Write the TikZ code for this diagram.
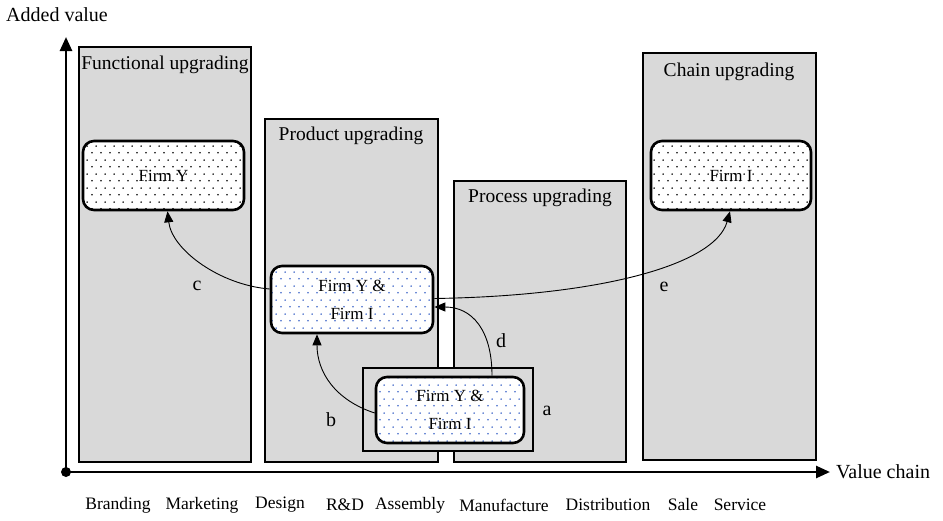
\documentclass[tikz,border=0pt]{standalone}
\usepackage{fontspec}
\setmainfont{Liberation Serif}
\usetikzlibrary{arrows.meta,patterns.meta}
\definecolor{colgray}{RGB}{217,217,217}
\definecolor{dotblue}{RGB}{60,100,200}
\tikzdeclarepattern{
  name=stagdots,
  type=uncolored,
  bottom left={(0pt,0pt)},
  top right={(9pt,14pt)},
  tile size={(9pt,14pt)},
  code={
    \tikzset{x=1pt,y=1pt}
    \fill (2.25,3.5) circle [radius=0.95];
    \fill (6.75,10.5) circle [radius=0.95];
  }
}
\tikzset{
  col/.style={draw=black, fill=colgray, line width=2.6pt},
  coltitle/.style={font=\fontsize{19.5}{23}\selectfont, inner sep=0pt},
  firmbox/.style={draw=black, line width=2.6pt, rounded corners=11pt,
    preaction={fill=white}, pattern=stagdots, inner sep=0pt, align=center,
    font=\fontsize{17}{28}\selectfont},
  blackdots/.style={firmbox, pattern color=black},
  bluedots/.style={firmbox, pattern color=dotblue},
  conn/.style={draw=black, line width=0.9pt, -{Triangle[length=11pt,width=9pt]}},
  lbl/.style={font=\fontsize{20}{24}\selectfont, inner sep=0pt},
  axis/.style={line width=2.6pt, -{Triangle[length=14pt,width=12pt]}},
  cat/.style={font=\fontsize{17.5}{21}\selectfont, inner sep=0pt}
}
\begin{document}
\begin{tikzpicture}[x=1pt,y=-1pt]
\useasboundingbox (0,0) rectangle (943,520);
% columns
\draw[col] (79,47) rectangle (251,462);
\draw[col] (265,119) rectangle (438,462);
\draw[col] (454,181) rectangle (626,462);
\draw[col] (643,53) rectangle (816,460);
\node[coltitle] (tfunc) at (165,65) {Functional upgrading};
\node[coltitle] (tprod) at (351,136) {Product upgrading};
\node[coltitle] (tproc) at (540,198) {Process upgrading};
\node[coltitle] (tchain) at (729,72) {Chain upgrading};
% outer frame of bottom box
\draw[col] (363,368) rectangle (533,451);
% firm boxes
\node[blackdots, minimum width=161pt, minimum height=69pt] (firmY) at (163.5,175.5) {Firm Y};
\node[blackdots, minimum width=160pt, minimum height=69pt] (firmI) at (731,175.5) {Firm I};
\node[bluedots, minimum width=162pt, minimum height=67pt] (mid) at (352,299.5) {Firm Y \&\\Firm I};
\node[bluedots, minimum width=148pt, minimum height=66pt] (bot) at (450,410) {Firm Y \&\\Firm I};
% axes
\coordinate (origin) at (66,472);
\coordinate (ytip) at (66,37);
\coordinate (xtip) at (830,472);
\draw[axis] (origin) -- (ytip);
\draw[axis] (origin) -- (xtip);
\fill (origin) circle [radius=5];
\node[lbl, anchor=west] (vc) at (836,472) {Value chain};
\node[lbl] (av) at (57,15) {Added value};
% connectors
\draw[conn] ([yshift=10.5pt]mid.west) .. controls (220,285) and (172,250) .. ([xshift=4pt]firmY.south);
\draw[conn] ([yshift=1pt]mid.east) .. controls (600,296) and (715,265) .. ([xshift=-1pt]firmI.south);
\draw[conn] ([xshift=42pt]bot.north) .. controls (492,330) and (472,307) .. ([yshift=-7.5pt]mid.east);
\draw[conn] ([yshift=-3pt]bot.west) .. controls (335,400) and (317,372) .. ([xshift=-35pt]mid.south);
% labels
\node[lbl] (la) at (547,411) {a};
\node[lbl] (lb) at (331,420) {b};
\node[lbl] (lc) at (197,286) {c};
\node[lbl] (ld) at (501,341) {d};
\node[lbl] (le) at (664,287) {e};
% value chain categories
\node[cat] (c1) at (118,505) {Branding};
\node[cat] (c2) at (202,505) {Marketing};
\node[cat] (c3) at (280,505) {Design};
\node[cat] (c4) at (345,505) {R\&D};
\node[cat] (c5) at (410,505) {Assembly};
\node[cat] (c6) at (504,505) {Manufacture};
\node[cat] (c7) at (608,505) {Distribution};
\node[cat] (c8) at (683,505) {Sale};
\node[cat] (c9) at (740,505) {Service};
\end{tikzpicture}
\end{document}
